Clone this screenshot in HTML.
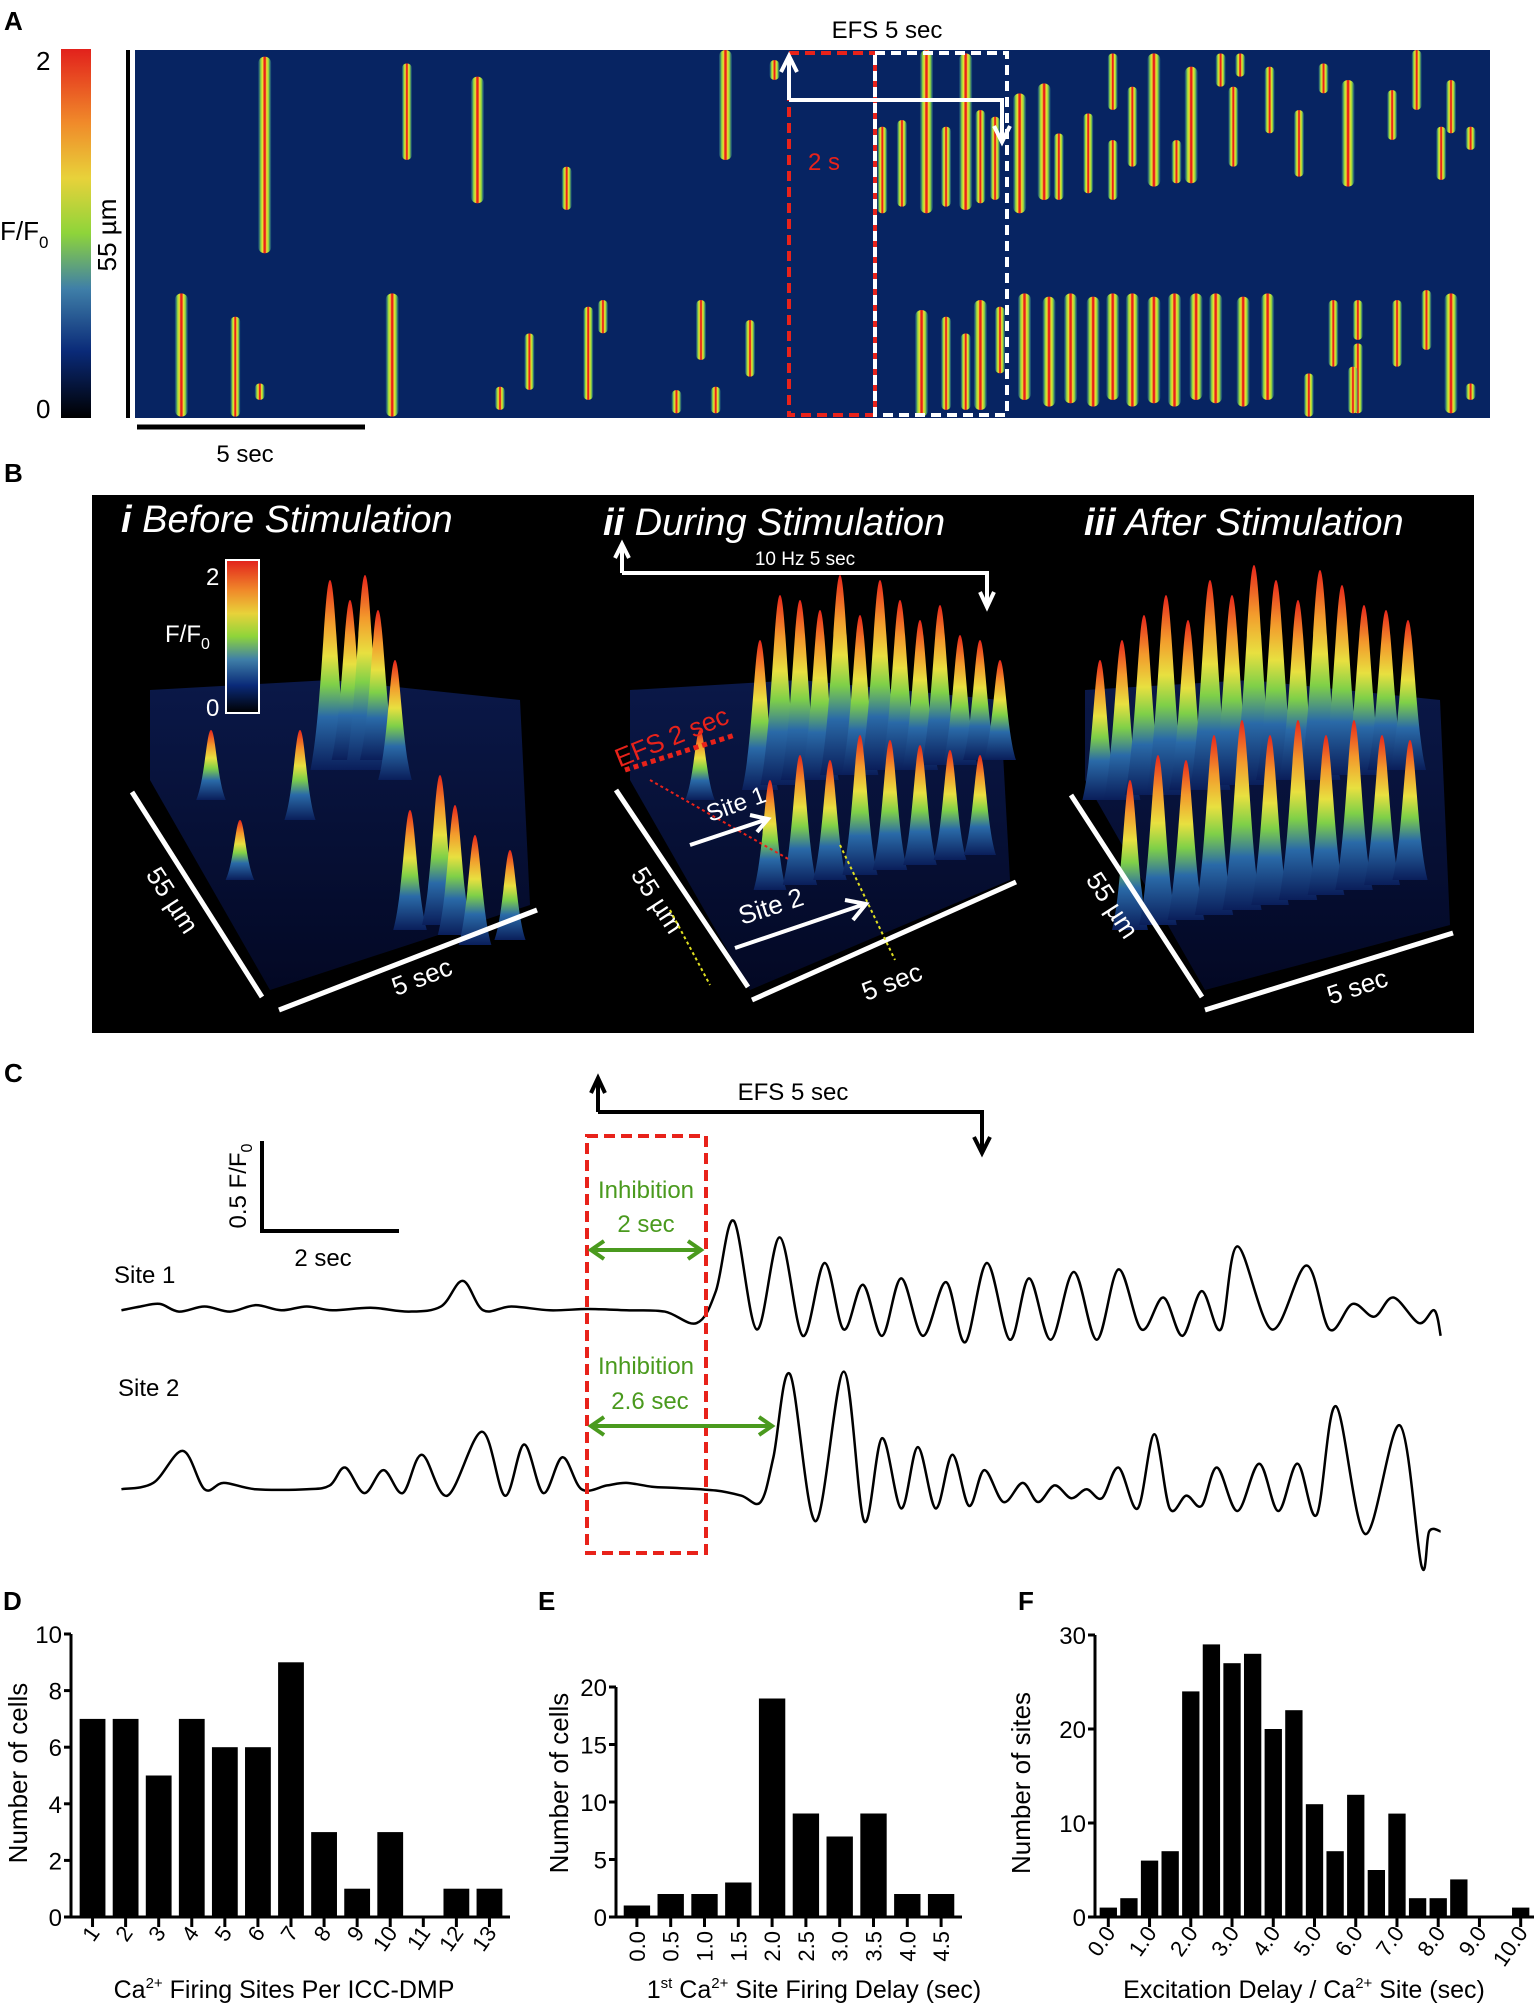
<!DOCTYPE html>
<html><head><meta charset="utf-8"><style>
body{margin:0;background:#fff;}
svg{display:block;font-family:"Liberation Sans",Arial,sans-serif;}
</style></head><body>
<svg id="fig" width="1534" height="2016" viewBox="0 0 1534 2016" xmlns="http://www.w3.org/2000/svg">
<defs>
<linearGradient id="cbar" x1="0" y1="0" x2="0" y2="1">
<stop offset="0" stop-color="#e2211c"/><stop offset="0.2" stop-color="#f08a2a"/><stop offset="0.35" stop-color="#e8d23a"/><stop offset="0.5" stop-color="#8ed43a"/><stop offset="0.65" stop-color="#3f7fa8"/><stop offset="0.82" stop-color="#0a2a78"/><stop offset="1" stop-color="#000"/>
</linearGradient>
<linearGradient id="streak" x1="0" y1="0" x2="1" y2="0">
<stop offset="0" stop-color="#2a7aa0" stop-opacity="0.3"/><stop offset="0.2" stop-color="#8fd840"/><stop offset="0.35" stop-color="#f0e030"/><stop offset="0.45" stop-color="#e8221a"/><stop offset="0.55" stop-color="#e8221a"/><stop offset="0.65" stop-color="#f0e030"/><stop offset="0.8" stop-color="#8fd840"/><stop offset="1" stop-color="#2a7aa0" stop-opacity="0.3"/>
</linearGradient>
<linearGradient id="peak" x1="0" y1="0" x2="0" y2="1">
<stop offset="0" stop-color="#e8261c"/><stop offset="0.22" stop-color="#f39a2c"/><stop offset="0.4" stop-color="#e8e040"/><stop offset="0.55" stop-color="#7fd048"/><stop offset="0.72" stop-color="#2a6aa8"/><stop offset="1" stop-color="#0a1e5a"/>
</linearGradient>
<linearGradient id="floor" x1="0" y1="0" x2="0" y2="1">
<stop offset="0" stop-color="#0a1848"/><stop offset="1" stop-color="#030824"/>
</linearGradient>
</defs>

<!-- Panel A -->
<text x="4" y="30" font-size="26" font-weight="bold">A</text>
<rect x="61" y="49" width="30" height="369" fill="url(#cbar)"/>
<text x="36" y="70" font-size="26">2</text>
<text x="36" y="418" font-size="26">0</text>
<text x="0" y="240" font-size="26">F/F<tspan font-size="17" dy="8">0</tspan></text>
<text transform="translate(116,235) rotate(-90)" text-anchor="middle" font-size="26">55 µm</text>
<line x1="128" y1="50" x2="128" y2="418" stroke="#000" stroke-width="4"/>
<rect x="135" y="50" width="1355" height="368" fill="#072462"/>
<g id="streaks"></g>
<line x1="137" y1="427" x2="365" y2="427" stroke="#000" stroke-width="5"/>
<text x="245" y="462" text-anchor="middle" font-size="24">5 sec</text>
<text x="887" y="38" text-anchor="middle" font-size="24">EFS 5 sec</text>
<rect x="789" y="53" width="86" height="362" fill="none" stroke="#e8221a" stroke-width="4" stroke-dasharray="10,6"/>
<rect x="875" y="53" width="132" height="362" fill="none" stroke="#fff" stroke-width="4" stroke-dasharray="10,6"/>
<text x="808" y="170" font-size="24" fill="#e8221a">2 s</text>
<path d="M789 100 V58 M781 72 L789 56 L797 72 M789 100 H1002 V140 M994 126 L1002 142 L1010 126" stroke="#fff" stroke-width="4" fill="none"/>

<!-- Panel B -->
<text x="4" y="482" font-size="26" font-weight="bold">B</text>
<rect x="92" y="495" width="1382" height="538" fill="#000"/>
<g id="surf"></g>
<text x="121" y="532" font-size="38" font-style="italic" fill="#fff"><tspan font-weight="bold">i</tspan> Before Stimulation</text>
<text x="603" y="535" font-size="38" font-style="italic" fill="#fff"><tspan font-weight="bold">ii</tspan> During Stimulation</text>
<text x="1084" y="535" font-size="38" font-style="italic" fill="#fff"><tspan font-weight="bold">iii</tspan> After Stimulation</text>
<rect x="226" y="560" width="33" height="153" fill="url(#cbar)" stroke="#fff" stroke-width="2"/>
<text x="206" y="585" font-size="24" fill="#fff">2</text>
<text x="206" y="716" font-size="24" fill="#fff">0</text>
<text x="165" y="642" font-size="24" fill="#fff">F/F<tspan font-size="16" dy="7">0</tspan></text>
<g stroke="#fff" stroke-width="5">
<line x1="132" y1="792" x2="262" y2="997"/><line x1="279" y1="1010" x2="537" y2="910"/>
<line x1="616" y1="790" x2="748" y2="987"/><line x1="752" y1="1000" x2="1016" y2="882"/>
<line x1="1071" y1="795" x2="1202" y2="997"/><line x1="1205" y1="1010" x2="1453" y2="933"/>
</g>
<g fill="#fff" font-size="26">
<text transform="translate(165,905) rotate(57)" text-anchor="middle">55 µm</text>
<text transform="translate(425,985) rotate(-21)" text-anchor="middle">5 sec</text>
<text transform="translate(650,905) rotate(57)" text-anchor="middle">55 µm</text>
<text transform="translate(895,990) rotate(-21)" text-anchor="middle">5 sec</text>
<text transform="translate(1105,910) rotate(57)" text-anchor="middle">55 µm</text>
<text transform="translate(1360,995) rotate(-18)" text-anchor="middle">5 sec</text>
</g>
<path d="M622 573 V547 M615 558 L622 544 L629 558 M622 573 H987 V605 M980 592 L987 607 L994 592" stroke="#fff" stroke-width="4" fill="none"/>
<text x="805" y="565" text-anchor="middle" font-size="19" fill="#fff">10 Hz 5 sec</text>
<text transform="translate(675,745) rotate(-22)" text-anchor="middle" font-size="26" fill="#e8221a">EFS 2 sec</text>
<line x1="625" y1="770" x2="735" y2="735" stroke="#e8221a" stroke-width="5" stroke-dasharray="5,4"/>
<line x1="650" y1="780" x2="790" y2="860" stroke="#e8221a" stroke-width="2" stroke-dasharray="3,3"/>
<line x1="670" y1="910" x2="710" y2="985" stroke="#e0e020" stroke-width="2" stroke-dasharray="3,3"/>
<line x1="840" y1="845" x2="895" y2="960" stroke="#e0e020" stroke-width="2" stroke-dasharray="3,3"/>
<text transform="translate(710,822) rotate(-20)" font-size="24" fill="#fff">Site 1</text>
<path d="M690 845 L765 820 M750 815 L768 819 L757 832" stroke="#fff" stroke-width="4" fill="none"/>
<text transform="translate(742,925) rotate(-18)" font-size="26" fill="#fff">Site 2</text>
<path d="M735 948 L862 905 M845 900 L866 904 L853 920" stroke="#fff" stroke-width="4" fill="none"/>

<!-- Panel C -->
<text x="4" y="1082" font-size="26" font-weight="bold">C</text>
<path d="M598 1112 V1082 M591 1093 L598 1078 L605 1093 M598 1112 H982 V1150 M974 1137 L982 1153 L990 1137" stroke="#000" stroke-width="4" fill="none"/>
<text x="793" y="1100" text-anchor="middle" font-size="24">EFS 5 sec</text>
<path d="M262 1141 V1231 H399" stroke="#000" stroke-width="4" fill="none"/>
<text transform="translate(246,1186) rotate(-90)" text-anchor="middle" font-size="24">0.5 F/F<tspan font-size="16" dy="6">0</tspan></text>
<text x="323" y="1266" text-anchor="middle" font-size="24">2 sec</text>
<text x="114" y="1283" font-size="24">Site 1</text>
<text x="118" y="1396" font-size="24">Site 2</text>
<g id="traces"></g>
<rect x="587" y="1136" width="119" height="417" fill="none" stroke="#e8221a" stroke-width="4" stroke-dasharray="11,6"/>
<g fill="#4a9a1e" font-size="24" text-anchor="middle">
<text x="646" y="1198">Inhibition</text>
<text x="646" y="1232">2 sec</text>
<text x="646" y="1374">Inhibition</text>
<text x="650" y="1409">2.6 sec</text>
</g>
<path d="M592 1250 H700 M604 1241 L591 1250 L604 1259 M688 1241 L701 1250 L688 1259" stroke="#4a9a1e" stroke-width="4" fill="none"/>
<path d="M592 1426 H771 M604 1417 L591 1426 L604 1435 M759 1417 L772 1426 L759 1435" stroke="#4a9a1e" stroke-width="4" fill="none"/>

<g id="charts"></g>
</svg>
<script>
const NS="http://www.w3.org/2000/svg";
function mk(tag,attrs,parent){const e=document.createElementNS(NS,tag);for(const k in attrs)e.setAttribute(k,attrs[k]);parent.appendChild(e);return e;}

// ---- kymograph streaks (zoom coords x/1.02, y/3)
const streakX=[270,415,487,578,740,790,900,920,945,965,985,1000,1015,1040,1065,1080,1110,1135,1135,1155,1177,1200,1215,1245,1258,1265,1295,1325,1350,1375,1420,1445,1470,1480,1500,
185,240,265,400,510,540,600,615,690,715,730,765,940,965,985,1000,1020,1045,1070,1092,1115,1135,1155,1177,1198,1220,1240,1268,1293,1360,1385,1385,1425,1455,1480,1500,1335,1380];
const streakY0=[170,190,230,500,150,180,380,360,150,380,160,330,350,280,250,400,340,160,420,260,160,420,200,160,260,160,200,330,190,240,270,150,380,240,380,
880,950,1150,880,1160,1000,920,900,1170,900,1160,960,930,950,1000,900,920,880,890,880,890,880,880,890,880,880,880,890,880,900,900,1030,900,870,880,1150,1120,1100];
const streakY1=[760,480,610,630,480,240,640,620,640,620,630,610,600,640,600,600,580,330,600,500,560,550,550,260,500,230,400,530,280,560,420,330,540,400,450,
1250,1250,1200,1250,1230,1170,1200,1000,1240,1080,1240,1130,1250,1230,1230,1230,1120,1200,1220,1210,1220,1200,1220,1210,1220,1200,1210,1220,1200,1100,1020,1240,1100,1050,1240,1200,1250,1240];
const sg=document.getElementById('streaks');
for(let i=0;i<streakX.length;i++){
  const x=streakX[i]/1.02,y0=streakY0[i]/3,y1=streakY1[i]/3;
  const w=(y1-y0)>100?13:10;
  const r=mk('rect',{x:x-w/2,y:y0,width:w,height:y1-y0,rx:w/2,fill:'url(#streak)'},sg);
  
  
}

// ---- panel B surfaces
const sf=document.getElementById('surf');
function floor(pts){const p=mk('polygon',{points:pts,fill:'url(#floor)'},sf);}
floor("150,780 270,990 530,905 520,700 330,680 150,690");
floor("630,780 750,990 1010,880 1000,700 800,680 630,690");
floor("1085,780 1205,990 1450,925 1440,700 1250,680 1085,690");
const peakX=[211,240,300,330,350,365,378,395,410,440,455,475,510,
 700,760,780,800,820,840,860,880,900,920,940,960,980,1000,770,800,830,860,890,920,950,980,
 1100,1122,1144,1166,1188,1210,1232,1254,1276,1298,1320,1342,1364,1386,1408,1130,1158,1186,1214,1242,1270,1298,1326,1354,1382,1410];
const peakY=[800,880,820,770,760,770,760,780,930,925,935,945,940,
 800,790,785,780,780,775,775,770,770,770,765,765,760,760,890,885,880,875,870,865,860,855,
 800,800,795,795,790,790,785,785,780,780,780,775,775,770,770,930,925,920,915,910,905,900,895,890,885,880];
const peakH=[70,60,90,190,160,195,150,120,120,150,130,110,90,
 70,150,190,180,170,200,160,190,170,150,160,130,120,100,110,130,120,140,130,120,110,100,
 140,160,180,200,170,210,190,220,200,180,210,190,170,160,150,150,170,160,180,190,170,180,160,170,150,140];
for(let i=0;i<peakX.length;i++){
  const x=peakX[i],y=peakY[i],h=peakH[i],w=12+h*0.04;
  const p=mk('path',{d:`M${x-w} ${y} C${x-w*0.4} ${y-h*0.3} ${x-w*0.3} ${y-h} ${x} ${y-h} C${x+w*0.3} ${y-h} ${x+w*0.4} ${y-h*0.3} ${x+w} ${y} Z`,fill:'url(#peak)'},sf);
  
  
}

// ---- Panel C traces
const S=1534/1200;
const sx=v=>v*S, sy=v=>v*S;
const site1T=[95,110,125,140,160,180,200,220,240,260,290,320,345,362,378,400,430,460,490,520,545,560,574,592,610,628,645,660,675,690,705,722,740,755,772,790,805,822,840,858,875,893,910,925,940,955,968,995,1022,1040,1058,1075,1090,1110,1122,1127];
const site1V=[1025,1022,1020,1026,1022,1026,1021,1025,1022,1025,1023,1026,1022,1002,1025,1022,1025,1024,1025,1026,1035,1010,955,1040,968,1045,988,1040,1005,1045,1000,1045,1003,1050,988,1048,1000,1048,995,1048,993,1040,1015,1045,1010,1040,975,1040,990,1040,1020,1030,1015,1035,1025,1045];
const site2T=[95,120,143,160,175,200,240,258,270,285,300,315,330,350,377,395,410,425,440,455,475,490,510,530,560,580,595,605,618,638,660,676,690,705,718,732,745,758,770,785,800,812,825,838,850,862,875,890,903,915,928,940,952,968,985,1000,1015,1030,1045,1068,1095,1112,1118,1127];
const site2V=[1165,1160,1135,1165,1160,1165,1165,1162,1148,1168,1150,1168,1138,1170,1120,1170,1130,1168,1140,1165,1162,1160,1163,1164,1166,1170,1175,1140,1075,1190,1073,1190,1125,1180,1132,1180,1138,1178,1150,1175,1160,1175,1162,1172,1165,1172,1148,1180,1122,1180,1170,1178,1148,1182,1145,1182,1145,1185,1100,1200,1115,1225,1198,1198];
function smooth(T,V){
  const P=T.map((t,i)=>[sx(t),sy(V[i])]);
  let d=`M${P[0][0]} ${P[0][1]}`;
  for(let i=0;i<P.length-1;i++){
    const p0=P[Math.max(0,i-1)],p1=P[i],p2=P[i+1],p3=P[Math.min(P.length-1,i+2)];
    d+=` C${p1[0]+(p2[0]-p0[0])/6} ${p1[1]+(p2[1]-p0[1])/6} ${p2[0]-(p3[0]-p1[0])/6} ${p2[1]-(p3[1]-p1[1])/6} ${p2[0]} ${p2[1]}`;
  }
  return d;
}
const tg=document.getElementById('traces');
const t1=mk('path',{d:smooth(site1T,site1V),fill:'none',stroke:'#000','stroke-width':2.5},tg);


const t2=mk('path',{d:smooth(site2T,site2V),fill:'none',stroke:'#000','stroke-width':2.5},tg);



// ---- Histograms
const dCategories=["1","2","3","4","5","6","7","8","9","10","11","12","13"];
const dValues=[7,7,5,7,6,6,9,3,1,3,0,1,1];
const dTicks=[0,2,4,6,8,10];
const eCategories=["0.0","0.5","1.0","1.5","2.0","2.5","3.0","3.5","4.0","4.5"];
const eValues=[1,2,2,3,19,9,7,9,2,2];
const eTicks=[0,5,10,15,20];
const fValues=[1,2,6,7,24,29,27,28,20,22,12,7,13,5,11,2,2,4,0,0,1];
const fTickLabels=["0.0","1.0","2.0","3.0","4.0","5.0","6.0","7.0","8.0","9.0","10.0"];
const fTicks=[0,10,20,30];
const cg=document.getElementById('charts');

function hist(cfg){
  const g=mk('g',{},cg);
  
  
  const y=v=>cfg.y0-(v/cfg.ymax)*(cfg.y0-cfg.ytop);
  const n=cfg.values.length,pitch=(cfg.x1-cfg.x0)/n;
  const x=i=>cfg.x0+i*pitch;
  cfg.values.forEach((v,i)=>{
    const r=mk('rect',{x:x(i)+pitch*(1-cfg.bw)/2,y:y(v),width:pitch*cfg.bw,height:cfg.y0-y(v),fill:'#000'},g);
    
    
  });
  const ax=mk('path',{d:`M${cfg.ax} ${cfg.ytop} V${cfg.y0} H${cfg.x1+4}`,stroke:'#000','stroke-width':3,fill:'none'},g);
  
  
  cfg.yticks.forEach(t=>{
    const l=mk('line',{x1:cfg.ax-7,x2:cfg.ax,y1:y(t),y2:y(t),stroke:'#000','stroke-width':3},g);
    
    
    const tx=mk('text',{x:cfg.ax-9,y:y(t)+9,'text-anchor':'end','font-size':24},g);
    tx.textContent=t;
    
    
  });
  cfg.xlabels.forEach((lab,k)=>{
    const xi=cfg.labelPos(k,x,pitch);
    const l=mk('line',{x1:xi,x2:xi,y1:cfg.y0,y2:cfg.y0+10,stroke:'#000','stroke-width':3},g);
    
    
    const tx=mk('text',{transform:`translate(${xi+cfg.lx},${cfg.y0+cfg.ly}) rotate(${cfg.rot})`,'text-anchor':'end','font-size':22},g);
    tx.textContent=lab;
    
    
  });
  const yt=mk('text',{transform:`translate(${cfg.ytx},${cfg.yty}) rotate(-90)`,'text-anchor':'middle','font-size':26},g);
  yt.textContent=cfg.ytitle;
  
  
  const xt=mk('text',{x:cfg.xtx,y:1998,'text-anchor':'middle','font-size':25},g);
  xt.innerHTML=cfg.xtitle;
  
  
  const pl=mk('text',{x:cfg.px,y:1610,'font-size':26,'font-weight':'bold'},g);
  pl.textContent=cfg.plabel;
  
  
}
hist({name:'histogram-d',values:dValues,xlabels:dCategories,yticks:dTicks,ymax:10,y0:1917,ytop:1634,x0:76,x1:506,ax:71,bw:0.78,
  labelPos:(k,x,p)=>x(k)+p/2,lx:8,ly:16,rot:-55,ytx:27,yty:1773,ytitle:'Number of cells',xtx:284,
  xtitle:'Ca<tspan font-size="15" dy="-10">2+</tspan><tspan dy="10"> Firing Sites Per ICC-DMP</tspan>',px:3,plabel:'D'});
hist({name:'histogram-e',values:eValues,xlabels:eCategories,yticks:eTicks,ymax:20,y0:1917,ytop:1687,x0:620,x1:958,ax:616,bw:0.78,
  labelPos:(k,x,p)=>x(k)+p/2,lx:8,ly:14,rot:-90,ytx:568,yty:1783,ytitle:'Number of cells',xtx:814,
  xtitle:'1<tspan font-size="15" dy="-10">st</tspan><tspan dy="10"> Ca</tspan><tspan font-size="15" dy="-10">2+</tspan><tspan dy="10"> Site Firing Delay (sec)</tspan>',px:538,plabel:'E'});
hist({name:'histogram-f',values:fValues,xlabels:fTickLabels,yticks:fTicks,ymax:30,y0:1917,ytop:1635,x0:1098,x1:1531,ax:1095,bw:0.84,
  labelPos:(k,x,p)=>x(2*k)+p/2,lx:8,ly:16,rot:-55,ytx:1030,yty:1783,ytitle:'Number of sites',xtx:1304,
  xtitle:'Excitation Delay / Ca<tspan font-size="15" dy="-10">2+</tspan><tspan dy="10"> Site (sec)</tspan>',px:1018,plabel:'F'});
</script>
</body></html>
